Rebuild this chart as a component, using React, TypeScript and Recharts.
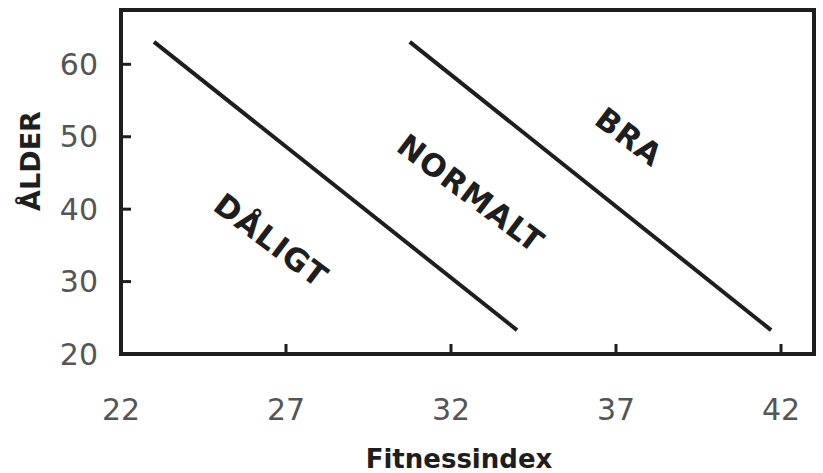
import { LineChart, Line, XAxis, YAxis, ReferenceArea, ReferenceDot } from 'recharts';

const xTicks = [22, 27, 32, 37, 42];
const yTicks = [20, 30, 40, 50, 60];

// boundary DÅLIGT / NORMALT
const poorFitness = [23.0, 34.0];
const poorAge = [63.1, 23.3];
// boundary NORMALT / BRA
const goodFitness = [30.75, 41.7];
const goodAge = [63.1, 23.3];

const zoneNames = ['DÅLIGT', 'NORMALT', 'BRA'];
const zoneFitness = [26.55, 32.6, 37.4];
const zoneAge = [35.7, 42.2, 50.0];

const poorLine = poorFitness.map((f, i) => ({ fitness: f, age: poorAge[i] }));
const goodLine = goodFitness.map((f, i) => ({ fitness: f, age: goodAge[i] }));

const ink = '#1e1e1e';
const bold = { fontFamily: 'DejaVu Sans', fontWeight: 700, fill: ink };

export default function App() {
  return (
    <div>
      <style>{'body{margin:0;background:#fff}'}</style>
      <LineChart width={823} height={473} margin={{ top: 10, right: 9, bottom: 0, left: 0 }}>
        <XAxis
          type="number"
          dataKey="fitness"
          domain={[22, 43]}
          ticks={xTicks}
          allowDataOverflow
          height={119}
          axisLine={false}
          tickSize={-10}
          tickMargin={55}
          tickLine={{ stroke: ink, strokeWidth: 3 }}
          tick={{ fill: '#555', fontSize: 30, fontFamily: 'DejaVu Sans' }}
          label={() => (
            <text x={459} y={468} textAnchor="middle" fontSize={26} {...bold}>
              Fitnessindex
            </text>
          )}
        />
        <YAxis
          type="number"
          dataKey="age"
          domain={[20, 67.5]}
          ticks={yTicks}
          allowDataOverflow
          width={121}
          axisLine={false}
          tickSize={-10}
          tickMargin={33}
          tickLine={{ stroke: ink, strokeWidth: 3 }}
          tick={{ fill: '#555', fontSize: 30, fontFamily: 'DejaVu Sans' }}
          label={() => (
            <text
              x={40}
              y={161}
              transform="rotate(-90 40 161)"
              textAnchor="middle"
              fontSize={27}
              {...bold}
            >
              ÅLDER
            </text>
          )}
        />
        <ReferenceArea x1={22} x2={43} y1={20} y2={67.5} fill="none" stroke={ink} strokeWidth={4} />
        <Line data={poorLine} dataKey="age" stroke={ink} strokeWidth={4} dot={false} isAnimationActive={false} />
        <Line data={goodLine} dataKey="age" stroke={ink} strokeWidth={4} dot={false} isAnimationActive={false} />
        {zoneNames.map((name, i) => (
          <ReferenceDot
            key={name}
            x={zoneFitness[i]}
            y={zoneAge[i]}
            r={0}
            shape={(p: any) => (
              <text
                x={p.cx}
                y={p.cy}
                transform={`rotate(37 ${p.cx} ${p.cy})`}
                textAnchor="middle"
                dominantBaseline="central"
                fontSize={31}
                letterSpacing={1}
                {...bold}
              >
                {name}
              </text>
            )}
          />
        ))}
      </LineChart>
    </div>
  );
}
